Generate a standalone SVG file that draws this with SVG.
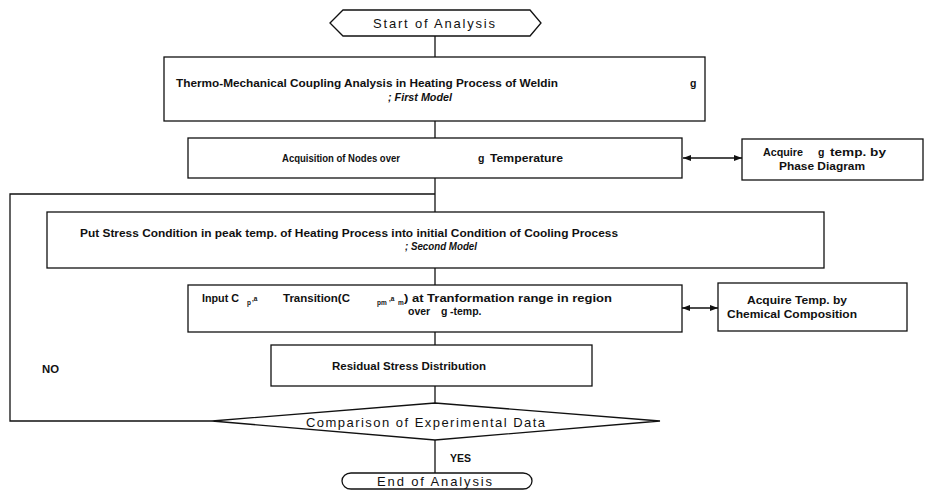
<svg xmlns="http://www.w3.org/2000/svg" width="925" height="495" viewBox="0 0 925 495">
<style>
.box{fill:#fff;stroke:#111;stroke-width:1.3}
.ln{fill:none;stroke:#111;stroke-width:1.3}
.t{font-family:"Liberation Sans",Arial,sans-serif;font-weight:bold;font-size:10.5px;fill:#111}
.ti{font-style:italic}
.sb{font-size:6.5px}
.r{font-family:"Liberation Sans",Arial,sans-serif;font-size:13px;fill:#111}
</style>
<defs>
<marker id="ah" viewBox="0 0 8 6" refX="8" refY="3" markerWidth="8" markerHeight="6" markerUnits="userSpaceOnUse" orient="auto-start-reverse"><path d="M0,0 L8,3 L0,6 z" fill="#111"/></marker>
</defs>
<rect width="925" height="495" fill="#fff"/>
<g id="connectors">
<line class="ln" x1="435" y1="36" x2="435" y2="57"/>
<line class="ln" x1="435" y1="121" x2="435" y2="138"/>
<line class="ln" x1="435" y1="178" x2="435" y2="212"/>
<polyline class="ln" points="435,194 10,194 10,421 212,421"/>
<line class="ln" x1="435" y1="268" x2="435" y2="285"/>
<line class="ln" x1="435" y1="332" x2="435" y2="345"/>
<line class="ln" x1="435" y1="386" x2="435" y2="403"/>
<line class="ln" x1="435" y1="440" x2="435" y2="473"/>
<line class="ln" x1="683" y1="158" x2="742" y2="158" marker-start="url(#ah)" marker-end="url(#ah)"/>
<line class="ln" x1="682" y1="308" x2="718" y2="308" marker-start="url(#ah)" marker-end="url(#ah)"/>
<text class="t" x="42" y="373" textLength="17" lengthAdjust="spacingAndGlyphs">NO</text>
<text class="t" x="450" y="462">YES</text>
</g>
<g id="start">
<polygon class="box" points="330,23 343,10 530,10 541,23 530,36 343,36"/>
<text class="r" x="373" y="27.5" textLength="122" lengthAdjust="spacing">Start of Analysis</text>
</g>
<g id="first-model">
<rect class="box" x="164" y="57" width="541" height="64"/>
<text class="t" x="176" y="87" textLength="382" lengthAdjust="spacingAndGlyphs">Thermo-Mechanical Coupling Analysis in Heating Process of Weldin</text>
<text class="t" x="690" y="87">g</text>
<text class="t ti" x="388" y="101" textLength="64" lengthAdjust="spacingAndGlyphs">; First Model</text>
</g>
<g id="acquisition">
<rect class="box" x="188" y="138" width="494" height="40"/>
<text class="t" x="282" y="162" textLength="118" lengthAdjust="spacingAndGlyphs">Acquisition of Nodes over</text>
<text class="t" x="478" y="162">g</text>
<text class="t" x="490" y="162" textLength="73" lengthAdjust="spacingAndGlyphs">Temperature</text>
</g>
<g id="phase-diagram">
<rect class="box" x="742" y="139" width="181" height="41"/>
<text class="t" x="763" y="156" textLength="40" lengthAdjust="spacingAndGlyphs">Acquire</text>
<text class="t" x="818" y="156">g</text>
<text class="t" x="830" y="156" textLength="56" lengthAdjust="spacingAndGlyphs">temp. by</text>
<text class="t" x="779" y="170" textLength="86" lengthAdjust="spacingAndGlyphs">Phase Diagram</text>
</g>
<g id="second-model">
<rect class="box" x="47" y="212" width="777" height="56"/>
<text class="t" x="80" y="237" textLength="538" lengthAdjust="spacingAndGlyphs">Put Stress Condition in peak temp. of Heating Process into initial Condition of Cooling Process</text>
<text class="t ti" x="405" y="250" textLength="72" lengthAdjust="spacingAndGlyphs">; Second Model</text>
</g>
<g id="input">
<rect class="box" x="188" y="285" width="494" height="47"/>
<text class="t" x="202" y="302" textLength="37" lengthAdjust="spacingAndGlyphs">Input C</text>
<text class="t sb" x="247" y="305">p</text>
<text class="t sb" x="252" y="301">,a</text>
<text class="t" x="283" y="302" textLength="67" lengthAdjust="spacingAndGlyphs">Transition(C</text>
<text class="t sb" x="377" y="305">pm</text>
<text class="t sb" x="389" y="301">,a</text>
<text class="t sb" x="398" y="305">m</text>
<text class="t" x="404" y="302" textLength="208" lengthAdjust="spacingAndGlyphs">) at Tranformation range in region</text>
<text class="t" x="408" y="315">over</text>
<text class="t" x="441" y="315">g</text>
<text class="t" x="450" y="315">-temp.</text>
</g>
<g id="chemical">
<rect class="box" x="718" y="283" width="189" height="48"/>
<text class="t" x="797" y="304" text-anchor="middle" textLength="100" lengthAdjust="spacingAndGlyphs">Acquire Temp. by</text>
<text class="t" x="792" y="318" text-anchor="middle" textLength="130" lengthAdjust="spacingAndGlyphs">Chemical Composition</text>
</g>
<g id="residual">
<rect class="box" x="271" y="345" width="321" height="41"/>
<text class="t" x="332" y="370" textLength="154" lengthAdjust="spacingAndGlyphs">Residual Stress Distribution</text>
</g>
<g id="comparison">
<polygon class="box" points="212,421 435,403 660,421 435,440"/>
<text class="r" x="306" y="426.5" textLength="239" lengthAdjust="spacing">Comparison of Experimental Data</text>
</g>
<g id="end">
<rect class="box" x="342" y="473" width="190" height="16" rx="9" ry="8"/>
<text class="r" x="377" y="485.5" textLength="115" lengthAdjust="spacing">End of Analysis</text>
</g>
</svg>
